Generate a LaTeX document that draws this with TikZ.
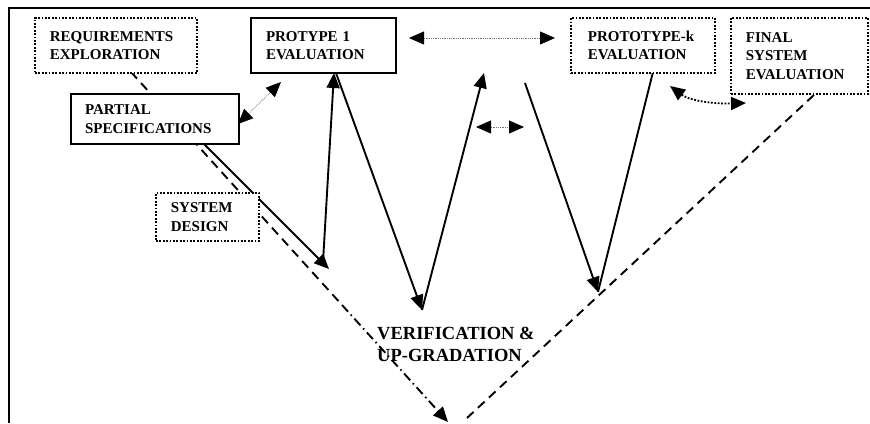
\documentclass[tikz,border=0pt]{standalone}
\usepackage{fontspec}
\setmainfont{Liberation Serif}
\usetikzlibrary{arrows.meta,backgrounds}

\begin{document}
\begin{tikzpicture}[x=1pt,y=-1pt,
  boxtext/.style={font=\bfseries\fontsize{15}{18.5}\selectfont, align=left,
    anchor=north west, inner ysep=0pt, fill=white},
  solidbox/.style={boxtext, draw, line width=2pt},
  dotbox/.style={boxtext, draw, line width=1.8pt, dash pattern=on 1.8pt off 1.6pt},
  flow/.style={line width=1.9pt, -{Triangle[length=15pt,width=13pt]}},
  plainflow/.style={line width=1.9pt},
  vline/.style={line width=1.9pt, dash pattern=on 9pt off 6pt},
  vdashdot/.style={line width=1.9pt, dash pattern=on 9pt off 4pt on 1.5pt off 4pt,
    -{Triangle[length=15pt,width=13pt]}},
  link/.style={draw=black!55, line width=0.8pt, densely dotted,
    {Triangle[length=15pt,width=13pt,color=black,fill=black]}-{Triangle[length=15pt,width=13pt,color=black,fill=black]}},
  thicklink/.style={line width=1.8pt, dash pattern=on 1.8pt off 1.6pt,
    {Triangle[length=15pt,width=13pt]}-{Triangle[length=15pt,width=13pt]}}
]
\useasboundingbox (0,0) rectangle (870,423);

% frame
\draw[line width=2pt] (8.5,423) -- (8.5,8) -- (870,8);

% boxes
\node[dotbox, minimum width=162pt, text width=132pt, inner xsep=15pt, minimum height=55pt]
  (req) at (34,17) {REQUIREMENTS\\EXPLORATION};
\node[solidbox, minimum width=168pt, text width=140pt, inner xsep=14pt, minimum height=50pt]
  (part) at (70,93) {PARTIAL\\SPECIFICATIONS};
\node[solidbox, minimum width=145pt, text width=115pt, inner xsep=15pt, minimum height=55pt]
  (proto1) at (250,17) {PROTYPE 1\\EVALUATION};
\node[dotbox, minimum width=144pt, text width=110pt, inner xsep=17pt, minimum height=55pt]
  (protok) at (570,17) {PROTOTYPE-k\\EVALUATION};
\node[dotbox, minimum width=137pt, text width=107pt, inner xsep=15pt, minimum height=76pt]
  (final) at (730,17) {FINAL\\SYSTEM\\EVALUATION};
\node[dotbox, minimum width=103pt, text width=73pt, inner xsep=15pt, minimum height=48pt]
  (sysdes) at (155,192) {SYSTEM\\DESIGN};
\node[font=\bfseries\fontsize{18.5}{22}\selectfont, align=left, anchor=west, inner sep=0pt]
  (verif) at (377,344) {VERIFICATION \&\\UP-GRADATION};

% connector end points
\coordinate (rq) at (131,72);
\coordinate (s1) at (342,305);
\coordinate (vb) at (448,422);
\coordinate (vr) at (467,418);
\coordinate (fe) at (815,94);
\coordinate (p1) at (203,143);
\coordinate (k1) at (329,269);
\coordinate (k2) at (323,262);
\coordinate (q1) at (334,73);
\coordinate (q2) at (336,73);
\coordinate (m1) at (422,310);
\coordinate (m2) at (484,73);
\coordinate (n1) at (525,83);
\coordinate (n2) at (598,292);
\coordinate (n3) at (653,72);
\coordinate (h1) at (409,38);
\coordinate (h2) at (555,38);
\coordinate (g1) at (476,127);
\coordinate (g2) at (524,127);
\coordinate (e1) at (238,124);
\coordinate (e2) at (281,82);
\coordinate (c1) at (670,86);
\coordinate (c2) at (746,103);

\begin{scope}[on background layer]
  % the V
  \draw[vline] (rq) -- (s1);
  \draw[vdashdot] (s1) -- (vb);
  \draw[vline] (vr) -- (fe);
  % prototype cycles
  \draw[flow] (p1) -- (k1);
  \draw[flow] (k2) -- (q1);
  \draw[flow] (q2) -- (m1);
  \draw[flow] (m1) -- (m2);
  \draw[flow] (n1) -- (n2);
  \draw[plainflow] (n2) -- (n3);
\end{scope}

% iteration links
\draw[link] (h1) -- (h2);
\draw[link] (g1) -- (g2);
\draw[link] (e1) -- (e2);
\draw[thicklink] (c1) .. controls (690,101) and (715,104) .. (c2);
\end{tikzpicture}
\end{document}
